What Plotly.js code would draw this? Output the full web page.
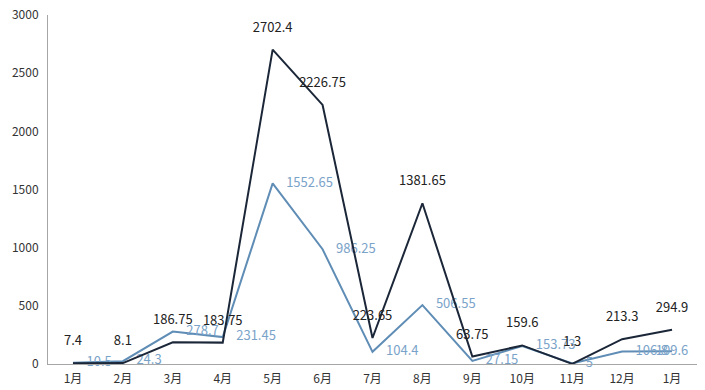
<!DOCTYPE html>
<html><head><meta charset="utf-8">
<script src="https://cdn.plot.ly/plotly-3.0.1.min.js"></script>
<style>html,body{margin:0;padding:0;background:#fff;}#chart{width:705px;height:390px;}</style>
</head><body><div id="chart"></div>
<script>
const months = ['1月','2月','3月','4月','5月','6月','7月','8月','9月','10月','11月','12月','1月 '];
const monthLabels = ['1月','2月','3月','4月','5月','6月','7月','8月','9月','10月','11月','12月','1月'];
const darkValues = [7.4, 8.1, 186.75, 183.75, 2702.4, 2226.75, 223.65, 1381.65, 63.75, 159.6, 1.3, 213.3, 294.9];
const lightValues = [10.5, 24.3, 278.7, 231.45, 1552.65, 986.25, 104.4, 506.55, 27.15, 153.73, 5, 106.8, 109.6];
const yTicks = [0, 500, 1000, 1500, 2000, 2500, 3000];

const font = '"Noto Sans CJK SC", "Microsoft YaHei", sans-serif';
const lightPos = lightValues.map((v, i) => i === lightValues.length - 1 ? 'middle center' : 'middle right');

const traces = [
  {
    x: months, y: lightValues, type: 'scatter', mode: 'lines+markers+text',
    line: {color: '#5f8db5', width: 2},
    marker: {size: 20, opacity: 0},
    text: lightValues.map(String), textposition: lightPos,
    textfont: {family: font, size: 13, color: '#7aa3c9'},
    cliponaxis: false, hoverinfo: 'skip'
  },
  {
    x: months, y: darkValues, type: 'scatter', mode: 'lines+markers+text',
    line: {color: '#1b2738', width: 2},
    marker: {size: 22, opacity: 0},
    text: darkValues.map(String), textposition: 'top center',
    textfont: {family: font, size: 13, color: '#222222'},
    cliponaxis: false, hoverinfo: 'skip'
  }
];

const layout = {
  width: 705, height: 390,
  margin: {l: 48, r: 8, t: 15, b: 26},
  paper_bgcolor: '#ffffff', plot_bgcolor: '#ffffff',
  showlegend: false,
  font: {family: font, size: 12, color: '#333'},
  xaxis: {
    type: 'category', range: [-0.5, 12.5],
    tickvals: months, ticktext: monthLabels,
    showline: true, linecolor: '#a6a6a6', linewidth: 1,
    showgrid: false, zeroline: false, ticks: '', ticklabelstandoff: 4,
    tickfont: {family: font, size: 12, color: '#333'}
  },
  yaxis: {
    range: [0, 3000], tickvals: yTicks,
    showline: true, linecolor: '#a6a6a6', linewidth: 1,
    showgrid: false, zeroline: false, ticks: '', ticklen: 0, ticklabelstandoff: 6,
    tickfont: {family: font, size: 12, color: '#333'}
  }
};

Plotly.newPlot('chart', traces, layout, {displayModeBar: false, staticPlot: true});
</script></body></html>
